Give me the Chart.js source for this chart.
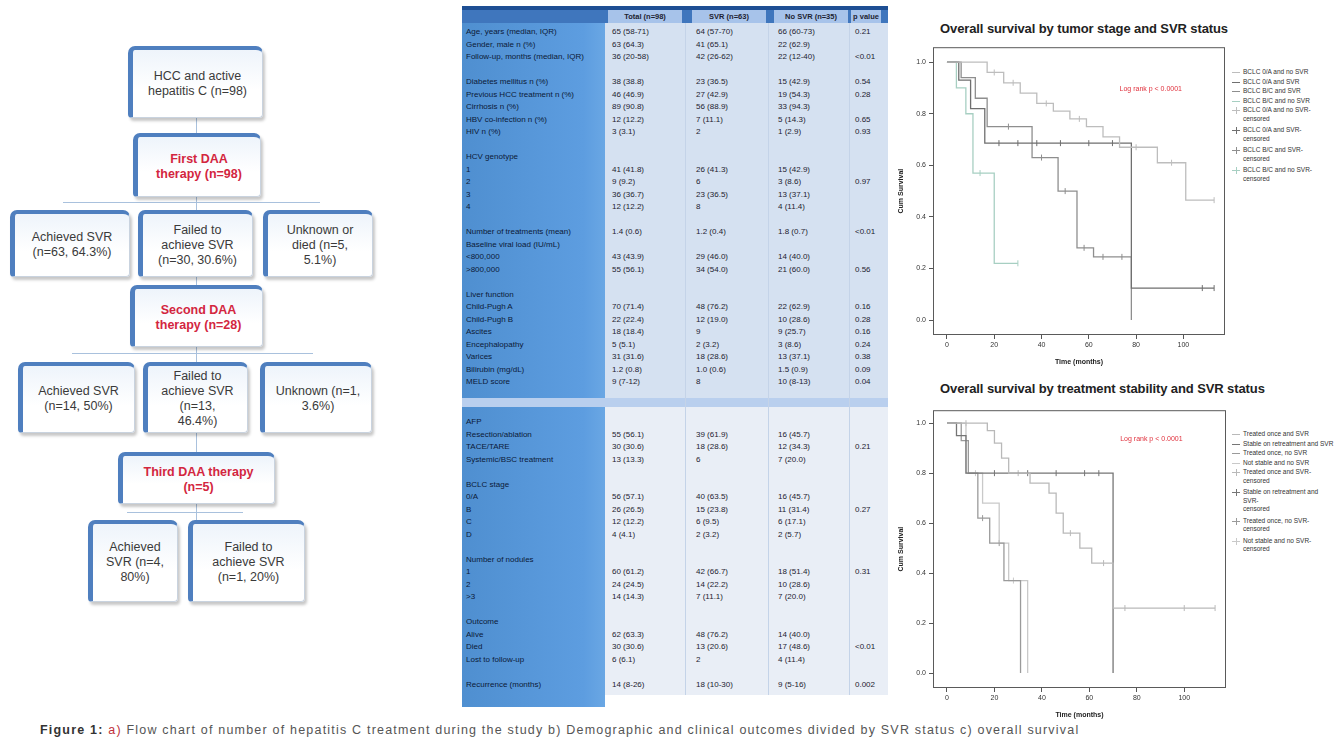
<!DOCTYPE html>
<html>
<head>
<meta charset="utf-8">
<script src="https://cdn.jsdelivr.net/npm/chart.js@4.4.1/dist/chart.umd.min.js"></script>
<style>
body{margin:0;width:1335px;height:744px;background:#fff;position:relative;overflow:hidden;font-family:"Liberation Sans",Arial,sans-serif;}
.box{position:absolute;box-sizing:border-box;border:1px solid #c9d3df;border-top:4px solid #4f7fbf;border-left:5px solid #4f7fbf;border-radius:7px 7px 4px 4px;background:linear-gradient(#eef4fb,#ffffff 60%);box-shadow:2px 3px 3px rgba(0,0,0,0.22);display:flex;align-items:center;justify-content:center;text-align:center;font-size:12.5px;line-height:15px;color:#3a3a3a;}
.red{color:#d3263f;font-weight:bold;}
.ln{position:absolute;background:#a9c1dd;}
#tbl{position:absolute;left:462px;top:6px;width:426px;height:701px;}
.cell{position:absolute;font-size:8px;line-height:12px;white-space:nowrap;color:#1d2230;}
.lab{color:#0c1a38;}
.ktitle{position:absolute;font-size:13px;font-weight:bold;color:#222;white-space:nowrap;letter-spacing:-0.1px;}
.leg{position:absolute;font-size:6.5px;line-height:8.5px;color:#333;}
.leg div{position:relative;padding-left:11px;}
.leg div span{position:absolute;left:0;top:4px;width:8px;height:1px;background:#666;}
#cap{position:absolute;left:40px;top:723px;font-size:12.5px;color:#555;white-space:nowrap;letter-spacing:1.2px;}
</style>
</head>
<body>

<!-- flow chart -->
<div class="ln" style="left:196px;top:117px;width:1px;height:17px"></div>
<div class="ln" style="left:196px;top:196px;width:1px;height:15px"></div>
<div class="ln" style="left:63px;top:202px;width:257px;height:1px"></div>
<div class="ln" style="left:196px;top:276px;width:1px;height:10px"></div>
<div class="ln" style="left:196px;top:346px;width:1px;height:17px"></div>
<div class="ln" style="left:72px;top:353px;width:241px;height:1px"></div>
<div class="ln" style="left:196px;top:432px;width:1px;height:21px"></div>
<div class="ln" style="left:196px;top:503px;width:1px;height:18px"></div>
<div class="ln" style="left:127px;top:512px;width:116px;height:1px"></div>

<div class="box" style="left:128px;top:46px;width:135px;height:72px">HCC and active<br>hepatitis C (n=98)</div>
<div class="box" style="left:133px;top:133px;width:128px;height:64px"><span class="red">First DAA<br>therapy (n=98)</span></div>
<div class="box" style="left:10px;top:210px;width:120px;height:67px">Achieved SVR<br>(n=63, 64.3%)</div>
<div class="box" style="left:138px;top:210px;width:115px;height:67px">Failed to<br>achieve SVR<br>(n=30, 30.6%)</div>
<div class="box" style="left:263px;top:210px;width:110px;height:67px">Unknown or<br>died (n=5,<br>5.1%)</div>
<div class="box" style="left:130px;top:285px;width:133px;height:62px"><span class="red">Second DAA<br>therapy (n=28)</span></div>
<div class="box" style="left:18px;top:362px;width:117px;height:71px">Achieved SVR<br>(n=14, 50%)</div>
<div class="box" style="left:143px;top:362px;width:105px;height:71px">Failed to<br>achieve SVR<br>(n=13,<br>46.4%)</div>
<div class="box" style="left:260px;top:362px;width:112px;height:71px">Unknown (n=1,<br>3.6%)</div>
<div class="box" style="left:118px;top:452px;width:157px;height:52px"><span class="red">Third DAA therapy<br>(n=5)</span></div>
<div class="box" style="left:88px;top:520px;width:90px;height:82px">Achieved<br>SVR (n=4,<br>80%)</div>
<div class="box" style="left:188px;top:520px;width:117px;height:82px">Failed to<br>achieve SVR<br>(n=1, 20%)</div>

<!-- table -->
<div id="tbl"></div>

<!-- survival plots -->
<div class="ktitle" style="left:940px;top:21px">Overall survival by tumor stage and SVR status</div>
<div style="position:absolute;left:893px;top:40px;width:337px;height:330px"><canvas id="km1"></canvas></div>
<div class="leg" id="leg1" style="left:1232px;top:68px;width:103px"></div>

<div class="ktitle" style="left:940px;top:381px">Overall survival by treatment stability and SVR status</div>
<div style="position:absolute;left:893px;top:403px;width:338px;height:320px"><canvas id="km2"></canvas></div>
<div class="leg" id="leg2" style="left:1232px;top:430px;width:103px"></div>

<div id="cap"><b style="color:#333">Figure 1:</b> <span style="color:#c0303a">a)</span> Flow chart of number of hepatitis C treatment during the study b) Demographic and clinical outcomes divided by SVR status c) overall survival</div>

<script>
// ---- table rows ----
const tblHead = ['', 'Total (n=98)', 'SVR (n=63)', 'No SVR (n=35)', 'p value'];
const tblTop = [
  ['Age, years (median, IQR)', '65 (58-71)', '64 (57-70)', '66 (60-73)', '0.21'],
  ['Gender, male n (%)', '63 (64.3)', '41 (65.1)', '22 (62.9)', ''],
  ['Follow-up, months (median, IQR)', '36 (20-58)', '42 (26-62)', '22 (12-40)', '<0.01'],
  ['', '', '', '', ''],
  ['Diabetes mellitus n (%)', '38 (38.8)', '23 (36.5)', '15 (42.9)', '0.54'],
  ['Previous HCC treatment n (%)', '46 (46.9)', '27 (42.9)', '19 (54.3)', '0.28'],
  ['Cirrhosis n (%)', '89 (90.8)', '56 (88.9)', '33 (94.3)', ''],
  ['HBV co-infection n (%)', '12 (12.2)', '7 (11.1)', '5 (14.3)', '0.65'],
  ['HIV n (%)', '3 (3.1)', '2', '1 (2.9)', '0.93'],
  ['', '', '', '', ''],
  ['HCV genotype', '', '', '', ''],
  ['1', '41 (41.8)', '26 (41.3)', '15 (42.9)', ''],
  ['2', '9 (9.2)', '6', '3 (8.6)', '0.97'],
  ['3', '36 (36.7)', '23 (36.5)', '13 (37.1)', ''],
  ['4', '12 (12.2)', '8', '4 (11.4)', ''],
  ['', '', '', '', ''],
  ['Number of treatments (mean)', '1.4 (0.6)', '1.2 (0.4)', '1.8 (0.7)', '<0.01'],
  ['Baseline viral load (IU/mL)', '', '', '', ''],
  ['  <800,000', '43 (43.9)', '29 (46.0)', '14 (40.0)', ''],
  ['  >800,000', '55 (56.1)', '34 (54.0)', '21 (60.0)', '0.56'],
  ['', '', '', '', ''],
  ['Liver function', '', '', '', ''],
  ['Child-Pugh A', '70 (71.4)', '48 (76.2)', '22 (62.9)', '0.16'],
  ['Child-Pugh B', '22 (22.4)', '12 (19.0)', '10 (28.6)', '0.28'],
  ['Ascites', '18 (18.4)', '9', '9 (25.7)', '0.16'],
  ['Encephalopathy', '5 (5.1)', '2 (3.2)', '3 (8.6)', '0.24'],
  ['Varices', '31 (31.6)', '18 (28.6)', '13 (37.1)', '0.38'],
  ['Bilirubin (mg/dL)', '1.2 (0.8)', '1.0 (0.6)', '1.5 (0.9)', '0.09'],
  ['MELD score', '9 (7-12)', '8', '10 (8-13)', '0.04']
];
const tblBottom = [
  ['AFP', '', '', '', ''],
  ['Resection/ablation', '55 (56.1)', '39 (61.9)', '16 (45.7)', ''],
  ['TACE/TARE', '30 (30.6)', '18 (28.6)', '12 (34.3)', '0.21'],
  ['Systemic/BSC treatment', '13 (13.3)', '6', '7 (20.0)', ''],
  ['', '', '', '', ''],
  ['BCLC stage', '', '', '', ''],
  ['  0/A', '56 (57.1)', '40 (63.5)', '16 (45.7)', ''],
  ['  B', '26 (26.5)', '15 (23.8)', '11 (31.4)', '0.27'],
  ['  C', '12 (12.2)', '6 (9.5)', '6 (17.1)', ''],
  ['  D', '4 (4.1)', '2 (3.2)', '2 (5.7)', ''],
  ['', '', '', '', ''],
  ['Number of nodules', '', '', '', ''],
  ['  1', '60 (61.2)', '42 (66.7)', '18 (51.4)', '0.31'],
  ['  2', '24 (24.5)', '14 (22.2)', '10 (28.6)', ''],
  ['  >3', '14 (14.3)', '7 (11.1)', '7 (20.0)', ''],
  ['', '', '', '', ''],
  ['Outcome', '', '', '', ''],
  ['  Alive', '62 (63.3)', '48 (76.2)', '14 (40.0)', ''],
  ['  Died', '30 (30.6)', '13 (20.6)', '17 (48.6)', '<0.01'],
  ['  Lost to follow-up', '6 (6.1)', '2', '4 (11.4)', ''],
  ['', '', '', '', ''],
  ['Recurrence (months)', '14 (8-26)', '18 (10-30)', '9 (5-16)', '0.002']
];

// ---- survival data: tumor stage and SVR ----
const stageA_t = [0, 17, 24, 31, 38, 45, 52, 59, 66, 73, 89, 101, 113];
const stageA_s = [1, 0.96, 0.92, 0.88, 0.84, 0.81, 0.78, 0.75, 0.71, 0.67, 0.61, 0.465, 0.465];
const stageA_c = [20, 28, 42, 56, 80, 95, 113];
const stageB_t = [0, 5, 10, 16, 78, 113];
const stageB_s = [1, 0.93, 0.82, 0.686, 0.124, 0.124];
const stageB_c = [22, 30, 38, 48, 60, 70, 108, 113];
const stageC_t = [0, 6, 12, 17, 36, 47, 55, 62, 78];
const stageC_s = [1, 0.94, 0.86, 0.75, 0.63, 0.5, 0.28, 0.245, 0];
const stageC_c = [26, 40, 50, 58, 66, 74];
const stageD_t = [0, 4, 8, 11, 20, 30];
const stageD_s = [1, 0.9, 0.8, 0.57, 0.22, 0.22];
const stageD_c = [14, 30];
const stageLabels = ['BCLC 0/A and no SVR', 'BCLC 0/A and SVR', 'BCLC B/C and SVR', 'BCLC B/C and no SVR'];

// ---- survival data: treatment stability and SVR ----
const treatA_t = [0, 17, 20, 23, 26, 35, 43, 46, 49, 56, 61, 70, 113];
const treatA_s = [1, 0.97, 0.92, 0.86, 0.8, 0.76, 0.72, 0.64, 0.56, 0.5, 0.44, 0.26, 0.26];
const treatA_c = [8, 30, 52, 66, 75, 100, 113];
const treatB_t = [0, 4, 8, 70];
const treatB_s = [1, 0.95, 0.8, 0];
const treatB_c = [20, 34, 46, 58, 64];
const treatC_t = [0, 6, 9, 13, 18, 24, 31];
const treatC_s = [1, 0.93, 0.8, 0.62, 0.52, 0.37, 0];
const treatC_c = [15, 22];
const treatD_t = [0, 8, 15, 22, 26, 34];
const treatD_s = [1, 0.8, 0.68, 0.52, 0.37, 0];
const treatD_c = [12, 28];
const treatLabels = ['Treated once and SVR', 'Stable on retreatment and SVR', 'Treated once, no SVR', 'Not stable and no SVR'];

const xTicks = [0, 20, 40, 60, 80, 100];
const yTicks = [0, 0.2, 0.4, 0.6, 0.8, 1.0];
const curveColors = ['#bdbdbd', '#6f6f6f', '#8e8e8e', '#a7cfc2'];
const curveColors2 = ['#b9b9b9', '#757575', '#9a9a9a', '#c9c9c9'];

// ---- build table ----
const tbl = document.getElementById('tbl');
function addDiv(css, html, cls) {
  const d = document.createElement('div');
  d.style.cssText = css;
  if (cls) d.className = cls;
  d.innerHTML = html || '';
  tbl.appendChild(d);
  return d;
}
addDiv('position:absolute;left:0;top:0;width:143px;height:701px;background:linear-gradient(90deg,#4f8fd0,#5d9de0 85%,#6aa7e4)');
addDiv('position:absolute;left:143px;top:16px;width:283px;height:376px;background:#d5e1f1');
addDiv('position:absolute;left:0;top:392px;width:426px;height:9px;background:#b9cfee');
addDiv('position:absolute;left:143px;top:401px;width:283px;height:288px;background:#e9eef6');
addDiv('position:absolute;left:0;top:0;width:426px;height:4px;background:#1e4f94');
addDiv('position:absolute;left:0;top:4px;width:426px;height:13px;background:#3f76bd');
const colX = [4, 150, 234, 316, 393];
[223, 306, 387].forEach(x => addDiv('position:absolute;left:' + x + 'px;top:17px;width:1px;height:672px;background:#c4d3e8'));
tblHead.forEach((h, j) => {
  if (j > 0) addDiv('left:' + (colX[j] - 4) + 'px;top:4px;width:' + (j < 4 ? 74 : 30) + 'px;height:13px;background:#a7c3ea;font-weight:bold;line-height:13px;text-align:center;font-size:7.5px', h, 'cell');
});
function rows(list, y0) {
  list.forEach((r, i) => {
    r.forEach((v, j) => {
      if (!v) return;
      addDiv('left:' + colX[j] + 'px;top:' + (y0 + i * 12.5) + 'px', v, j === 0 ? 'cell lab' : 'cell');
    });
  });
}
rows(tblTop, 20);
rows(tblBottom, 410);

// ---- survival charts ----
function survAt(t, s, time) {
  let v = s[0];
  t.forEach((tt, k) => { if (tt <= time) v = s[k]; });
  return v;
}
function group(t, s, c) { return { t: t, s: s, c: c }; }

const framePlugin = {
  id: 'frame',
  afterDraw(chart) {
    const a = chart.chartArea, ctx = chart.ctx;
    ctx.save();
    ctx.strokeStyle = '#5a5a5a';
    ctx.lineWidth = 1;
    ctx.strokeRect(a.left + 0.5, a.top + 0.5, a.width - 1, a.height - 1);
    const note = chart.options.plugins.note;
    if (note) {
      ctx.fillStyle = '#e0303c';
      ctx.font = '7px "Liberation Sans", Arial, sans-serif';
      ctx.fillText(note.text, chart.scales.x.getPixelForValue(note.x), chart.scales.y.getPixelForValue(note.y));
    }
    ctx.restore();
  }
};

function kmChart(id, groups, colors, yMin, yMax, noteY) {
  const datasets = [];
  groups.forEach((g, i) => {
    datasets.push({
      data: g.t.map((t, k) => ({ x: t, y: g.s[k] })),
      borderColor: colors[i], borderWidth: 1.3, stepped: true, pointRadius: 0, fill: false
    });
  });
  groups.forEach((g, i) => {
    datasets.push({
      data: g.c.map(t => ({ x: t, y: survAt(g.t, g.s, t) })),
      showLine: false, pointStyle: 'line', pointRotation: 90, pointRadius: 3,
      pointBorderColor: colors[i], pointBorderWidth: 1, borderColor: colors[i]
    });
  });
  const tickFont = { size: 7, family: '"Liberation Sans", Arial, sans-serif' };
  const titleFont = { size: 7, weight: 'bold', family: '"Liberation Sans", Arial, sans-serif' };
  new Chart(document.getElementById(id), {
    type: 'line',
    data: { datasets: datasets },
    options: {
      responsive: true, maintainAspectRatio: false, animation: false,
      layout: { padding: { top: 7, right: 3, left: 0, bottom: 0 } },
      plugins: { legend: { display: false }, tooltip: { enabled: false },
        note: { text: 'Log rank p < 0.0001', x: 73, y: noteY } },
      scales: {
        x: {
          type: 'linear', min: -5.9, max: 117.6,
          afterBuildTicks: s => { s.ticks = xTicks.map(v => ({ value: v })); },
          afterFit: s => { s.height = 35; },
          grid: { drawOnChartArea: false, tickLength: 4, color: '#555' },
          border: { display: false },
          ticks: { font: tickFont, color: '#333', padding: 2 },
          title: { display: true, text: 'Time (months)', font: titleFont, color: '#222', padding: { top: 4 } }
        },
        y: {
          min: yMin, max: yMax,
          afterBuildTicks: s => { s.ticks = yTicks.map(v => ({ value: v })); },
          afterFit: s => { s.width = 40; },
          grid: { drawOnChartArea: false, tickLength: 4, color: '#555' },
          border: { display: false },
          ticks: { font: tickFont, color: '#333', padding: 3, callback: v => v.toFixed(1) },
          title: { display: true, text: 'Cum Survival', font: titleFont, color: '#222', padding: { bottom: 4 } }
        }
      }
    },
    plugins: [framePlugin]
  });
}

kmChart('km1', [group(stageA_t, stageA_s, stageA_c), group(stageB_t, stageB_s, stageB_c),
  group(stageC_t, stageC_s, stageC_c), group(stageD_t, stageD_s, stageD_c)], curveColors, -0.058, 1.058, 0.89);
kmChart('km2', [group(treatA_t, treatA_s, treatA_c), group(treatB_t, treatB_s, treatB_c),
  group(treatC_t, treatC_s, treatC_c), group(treatD_t, treatD_s, treatD_c)], curveColors2, -0.06, 1.052, 0.93);

function legend(id, labels, colors) {
  const el = document.getElementById(id);
  labels.forEach((l, i) => {
    el.innerHTML += '<div style="margin-bottom:1px"><span style="background:' + colors[i] + '"></span>' + l + '</div>';
  });
  labels.forEach((l, i) => {
    el.innerHTML += '<div style="margin-bottom:3px"><span style="background:' + colors[i] + '"></span><span style="left:4px;top:1px;width:1px;height:7px;background:' + colors[i] + '"></span>' + l + '-<br>censored</div>';
  });
}
legend('leg1', stageLabels, curveColors);
legend('leg2', treatLabels, curveColors2);
</script>
</body>
</html>
